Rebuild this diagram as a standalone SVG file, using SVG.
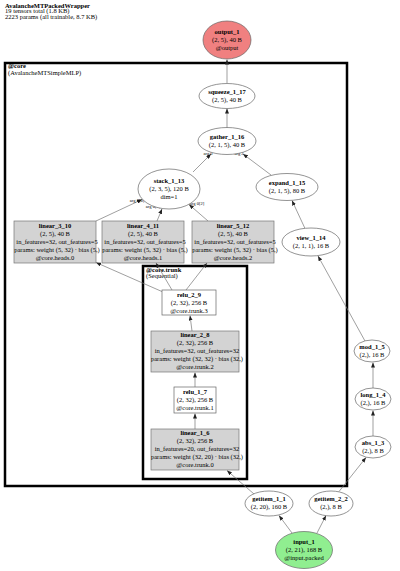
<svg xmlns="http://www.w3.org/2000/svg" width="400" height="571" viewBox="0 0 400 571">
<style>
text{font-family:"Liberation Serif","DejaVu Serif",serif;font-size:6.5px;fill:#000}
.b{font-weight:bold}
.m{text-anchor:middle}
.el{font-size:4.5px;text-anchor:middle}
.node{stroke:#666;stroke-width:0.7;fill:#fff}
.lin{fill:#d3d3d3;stroke:#777;stroke-width:0.7}
.clus{fill:none;stroke:#000;stroke-width:2.5}
.edge{stroke:#777;stroke-width:0.7;fill:none;marker-end:url(#arr)}
</style>
<defs>
<marker id="arr" markerUnits="userSpaceOnUse" markerWidth="5" markerHeight="4" refX="5" refY="2" orient="auto">
<path d="M0,0 L5,2 L0,4 z" fill="#222"/>
</marker>
</defs>
<rect width="400" height="571" fill="#fff"/>
<g id="title">
<text x="5" y="7.5" class="b">AvalancheMTPackedWrapper</text>
<text x="5" y="13">19 tensors total (1.8 KB)</text>
<text x="5" y="18.5">2223 params (all trainable, 8.7 KB)</text>
</g>
<g id="cluster_core">
<rect x="5" y="63" width="342" height="423" class="clus"/>
<text x="8" y="68" class="b">@core</text>
<text x="8" y="74.5">(AvalancheMTSimpleMLP)</text>
</g>
<g id="cluster_trunk">
<rect x="143" y="266" width="104" height="213" class="clus"/>
<text x="146" y="271.5" class="b">@core.trunk</text>
<text x="146" y="278">(Sequential)</text>
</g>
<g id="connectors">
<path class="edge" d="M227,83 L227,59.5"/>
<path class="edge" d="M227,128 L227,108.5"/>
<path class="edge" d="M193,172 L211,154"/>
<path class="edge" d="M271,175 L243,154"/>
<path class="edge" d="M96,221 L142,199.5"/>
<path class="edge" d="M157,221 L162,209"/>
<path class="edge" d="M208,221 L189,204.5"/>
<path class="edge" d="M305,228.5 L292,200.5"/>
<path class="edge" d="M163,292 L96,262.5"/>
<path class="edge" d="M172,290 L156,263"/>
<path class="edge" d="M186,290 L207,263"/>
<path class="edge" d="M192,331 L190,315.5"/>
<path class="edge" d="M195,387 L195,372.5"/>
<path class="edge" d="M195,429 L195,413.5"/>
<path class="edge" d="M365,341 L318,256"/>
<path class="edge" d="M373,388 L373,362.5"/>
<path class="edge" d="M373,436 L373,410.5"/>
<path class="edge" d="M339,491.5 L366,457.5"/>
<path class="edge" d="M254,494 L227,470.5"/>
<path class="edge" d="M292,533 L279,515.5"/>
<path class="edge" d="M317,533 L326,515.5"/>
<text class="el" x="208" y="155">arg 0</text>
<text class="el" x="239" y="155">arg 2</text>
<text class="el" x="137" y="201.5">arg 0[0]</text>
<text class="el" x="153" y="207.5">arg 0[1]</text>
<text class="el" x="197" y="204.5">arg 0[2]</text>
</g>
<g id="output_1">
<ellipse cx="227" cy="40" rx="24" ry="19" class="node" style="fill:#f08080"/>
<text x="227" y="33.5" class="m b">output_1</text>
<text x="227" y="41.5" class="m">(2, 5), 40 B</text>
<text x="227" y="49.5" class="m">@output</text>
</g>
<g id="squeeze_1_17">
<ellipse cx="227" cy="96" rx="28" ry="12.5" class="node"/>
<text x="227" y="93.5" class="m b">squeeze_1_17</text>
<text x="227" y="101.5" class="m">(2, 5), 40 B</text>
</g>
<g id="gather_1_16">
<ellipse cx="227" cy="141" rx="29" ry="13.5" class="node"/>
<text x="227" y="138.5" class="m b">gather_1_16</text>
<text x="227" y="146.5" class="m">(2, 1, 5), 40 B</text>
</g>
<g id="stack_1_13">
<ellipse cx="169" cy="189" rx="31" ry="20" class="node"/>
<text x="169" y="182.5" class="m b">stack_1_13</text>
<text x="169" y="190.5" class="m">(2, 3, 5), 120 B</text>
<text x="169" y="198.5" class="m">dim=1</text>
</g>
<g id="expand_1_15">
<ellipse cx="287" cy="187" rx="31" ry="13.5" class="node"/>
<text x="287" y="184.5" class="m b">expand_1_15</text>
<text x="287" y="192.5" class="m">(2, 1, 5), 80 B</text>
</g>
<g id="linear_3_10">
<rect x="14" y="221" width="82" height="42" class="lin"/>
<text x="55" y="227.5" class="m b">linear_3_10</text>
<text x="55" y="235.5" class="m">(2, 5), 40 B</text>
<text x="57" y="243.5" class="m">in_features=32, out_features=5</text>
<text x="57" y="251.5" class="m">params: weight (5, 32) · bias (5,)</text>
<text x="55" y="259.5" class="m">@core.heads.0</text>
</g>
<g id="linear_4_11">
<rect x="102" y="221" width="82" height="42" class="lin"/>
<text x="143" y="227.5" class="m b">linear_4_11</text>
<text x="143" y="235.5" class="m">(2, 5), 40 B</text>
<text x="145" y="243.5" class="m">in_features=32, out_features=5</text>
<text x="145" y="251.5" class="m">params: weight (5, 32) · bias (5,)</text>
<text x="143" y="259.5" class="m">@core.heads.1</text>
</g>
<g id="linear_5_12">
<rect x="192" y="221" width="82" height="42" class="lin"/>
<text x="233" y="227.5" class="m b">linear_5_12</text>
<text x="233" y="235.5" class="m">(2, 5), 40 B</text>
<text x="235" y="243.5" class="m">in_features=32, out_features=5</text>
<text x="235" y="251.5" class="m">params: weight (5, 32) · bias (5,)</text>
<text x="233" y="259.5" class="m">@core.heads.2</text>
</g>
<g id="view_1_14">
<ellipse cx="311" cy="242" rx="29" ry="14" class="node"/>
<text x="311" y="239.5" class="m b">view_1_14</text>
<text x="311" y="247.5" class="m">(2, 1, 1), 16 B</text>
</g>
<g id="relu_2_9">
<rect x="162" y="290" width="54" height="25" class="node"/>
<text x="189" y="296.5" class="m b">relu_2_9</text>
<text x="189" y="304.5" class="m">(2, 32), 256 B</text>
<text x="189" y="312.5" class="m">@core.trunk.3</text>
</g>
<g id="linear_2_8">
<rect x="151" y="331" width="88" height="41" class="lin"/>
<text x="195" y="337" class="m b">linear_2_8</text>
<text x="195" y="345" class="m">(2, 32), 256 B</text>
<text x="197" y="353" class="m">in_features=32, out_features=32</text>
<text x="197" y="361" class="m">params: weight (32, 32) · bias (32,)</text>
<text x="195" y="369" class="m">@core.trunk.2</text>
</g>
<g id="relu_1_7">
<rect x="174" y="387" width="42" height="26" class="node"/>
<text x="195" y="393.5" class="m b">relu_1_7</text>
<text x="195" y="401.5" class="m">(2, 32), 256 B</text>
<text x="195" y="409.5" class="m">@core.trunk.1</text>
</g>
<g id="linear_1_6">
<rect x="151" y="429" width="88" height="41" class="lin"/>
<text x="195" y="435" class="m b">linear_1_6</text>
<text x="195" y="443" class="m">(2, 32), 256 B</text>
<text x="197" y="451" class="m">in_features=20, out_features=32</text>
<text x="197" y="459" class="m">params: weight (32, 20) · bias (32,)</text>
<text x="195" y="467" class="m">@core.trunk.0</text>
</g>
<g id="mod_1_5">
<ellipse cx="372" cy="351" rx="18" ry="11" class="node"/>
<text x="372" y="348.5" class="m b">mod_1_5</text>
<text x="372" y="356.5" class="m">(2,), 16 B</text>
</g>
<g id="long_1_4">
<ellipse cx="373" cy="399" rx="18" ry="11" class="node"/>
<text x="373" y="396.5" class="m b">long_1_4</text>
<text x="373" y="404.5" class="m">(2,), 16 B</text>
</g>
<g id="abs_1_3">
<ellipse cx="373" cy="447" rx="18" ry="11" class="node"/>
<text x="373" y="444.5" class="m b">abs_1_3</text>
<text x="373" y="452.5" class="m">(2,), 8 B</text>
</g>
<g id="getitem_1_1">
<ellipse cx="269" cy="503.5" rx="24" ry="12.5" class="node"/>
<text x="269" y="501" class="m b">getitem_1_1</text>
<text x="269" y="509" class="m">(2, 20), 160 B</text>
</g>
<g id="getitem_2_2">
<ellipse cx="331" cy="503.5" rx="22" ry="12.5" class="node"/>
<text x="331" y="501" class="m b">getitem_2_2</text>
<text x="331" y="509" class="m">(2,), 8 B</text>
</g>
<g id="input_1">
<ellipse cx="304" cy="550" rx="28.5" ry="18.5" class="node" style="fill:#90ee90"/>
<text x="304" y="543.5" class="m b">input_1</text>
<text x="304" y="551.5" class="m">(2, 21), 168 B</text>
<text x="304" y="559.5" class="m">@input.packed</text>
</g>
</svg>
